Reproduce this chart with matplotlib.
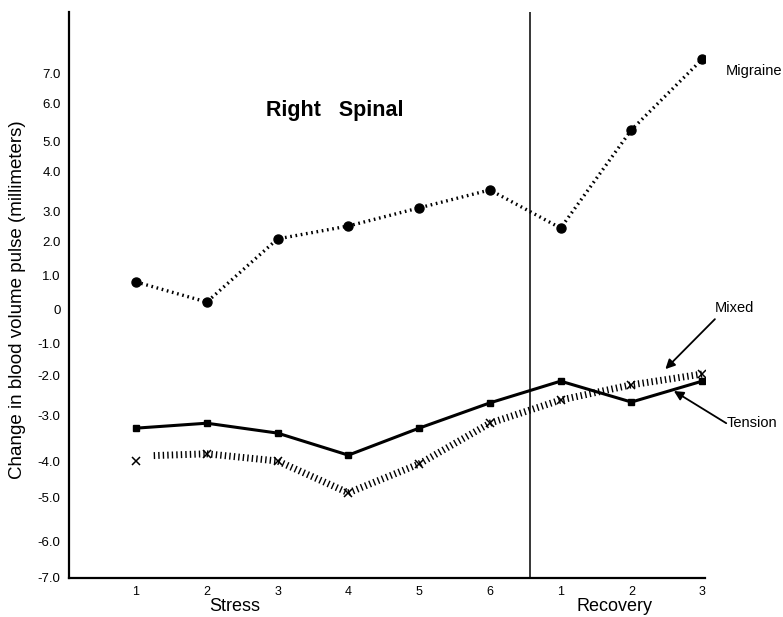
import numpy as np
import matplotlib
matplotlib.use("Agg")
import matplotlib.pyplot as plt

plt.rcParams['font.family'] = ['Liberation Sans', 'DejaVu Sans']

# ---------------- data ----------------
sessions = [1, 2, 3, 4, 5, 6, 7, 8, 9]
session_labels = ["1", "2", "3", "4", "5", "6", "1", "2", "3"]
migraine = [0.82, 0.21, 2.07, 2.50, 3.08, 3.54, 2.43, 5.32, 7.45]
mixed = [-3.27, -3.16, -3.38, -3.87, -3.27, -2.68, -2.15, -2.66, -2.15]
tension = [-4.00, -3.84, -4.00, -4.86, -4.08, -3.16, -2.61, -2.24, -1.97]
y_ticks = [7, 6, 5, 4, 3, 2, 1, 0, -1, -2, -3, -4, -5, -6, -7]
y_tick_labels = ["7.0", "6.0", "5.0", "4.0", "3.0", "2.0", "1.0", "0",
                 "-1.0", "-2.0", "-3.0", "-4.0", "-5.0", "-6.0", "-7.0"]

# ---------------- hand-drawn (uneven) vertical scale ----------------
scale_vals = np.array([-7, -6, -5, -4, -3, -2, -1, 0, 1, 2, 3, 4, 5, 6, 7, 9], float)
scale_px = np.array([578, 542, 498, 461, 416, 375, 344, 309, 276, 241, 211,
                     172, 142, 104, 73, 12], float)
scale_pos = 578.0 - scale_px


def fwd(v):
    return np.interp(np.asarray(v, float), scale_vals, scale_pos)


def inv(p):
    return np.interp(np.asarray(p, float), scale_pos, scale_vals)


W, H = 783, 617
fig = plt.figure(figsize=(W / 100, H / 100), dpi=100)
ax = fig.add_axes([69 / W, 1 - 578 / H, (705 - 69) / W, (578 - 12) / H])
ax.set_yscale('function', functions=(fwd, inv))
ax.set_ylim(-7, 9)
ax.set_xlim(0.053, 9.04)

# Migraine: dotted tick line with filled dots
ax.plot(sessions, migraine, color='black', lw=2.4, dashes=(0.5, 1.1),
        solid_capstyle='butt', dash_capstyle='butt', zorder=3)
ax.plot(sessions, migraine, ls='none', marker='o', ms=6.5, color='black', zorder=4)

# Tension: hatched thick band with x markers
ax.plot(sessions[1:], tension[1:], color='black', lw=5.0, dashes=(0.2, 0.45),
        dash_capstyle='butt', zorder=2)
ax.plot([1.25, 2], [tension[0] + 0.12, tension[1]], color='black', lw=5.0,
        dashes=(0.2, 0.45), dash_capstyle='butt', zorder=2)
ax.plot(sessions, tension, ls='none', marker='x', ms=6, mew=1.1, color='black', zorder=4)

# Mixed: solid line with small squares
ax.plot(sessions, mixed, color='black', lw=2.2, marker='s', ms=4, zorder=3)

# stress / recovery divider
ax.axvline(6.57, color='black', lw=1.1, zorder=1)

# axes styling
for s in ['top', 'right']:
    ax.spines[s].set_visible(False)
for s in ['left', 'bottom']:
    ax.spines[s].set_linewidth(1.6)
ax.set_yticks(y_ticks)
ax.set_yticklabels(y_tick_labels)
ax.set_xticks(sessions)
ax.set_xticklabels(session_labels)
ax.tick_params(axis='both', length=0)
ax.tick_params(axis='y', pad=6, labelsize=9.5)
ax.tick_params(axis='x', pad=6, labelsize=9)
ax.minorticks_off()

xt = ax.get_xaxis_transform()
ax.text(2.4, -0.05, "Stress", transform=xt, ha='center', va='center', fontsize=13)
ax.text(7.76, -0.05, "Recovery", transform=xt, ha='center', va='center', fontsize=13)

ax.text(3.81, 5.84, "Right   Spinal", ha='center', va='center',
        fontsize=15.5, fontweight='bold')

ax.text(9.33, 7.06, "Migraine", ha='left', va='center', fontsize=10.5, clip_on=False)
ax.text(9.18, 0.03, "Mixed", ha='left', va='center', fontsize=10.5, clip_on=False)
ax.text(9.35, -3.16, "Tension", ha='left', va='center', fontsize=10.5, clip_on=False)

arrow_kw = dict(arrowstyle='-|>', color='black', lw=1.3, mutation_scale=14,
                shrinkA=0, shrinkB=0)
ax.annotate('', xy=(8.48, -1.81), xytext=(9.18, -0.29), arrowprops=arrow_kw,
            annotation_clip=False)
ax.annotate('', xy=(8.60, -2.39), xytext=(9.34, -3.16), arrowprops=arrow_kw,
            annotation_clip=False)

fig.text(18 / W, 1 - 300 / H, "Change in blood volume pulse (millimeters)",
         rotation=90, ha='center', va='center', fontsize=13.5)

fig.savefig("out.png", dpi=100)
